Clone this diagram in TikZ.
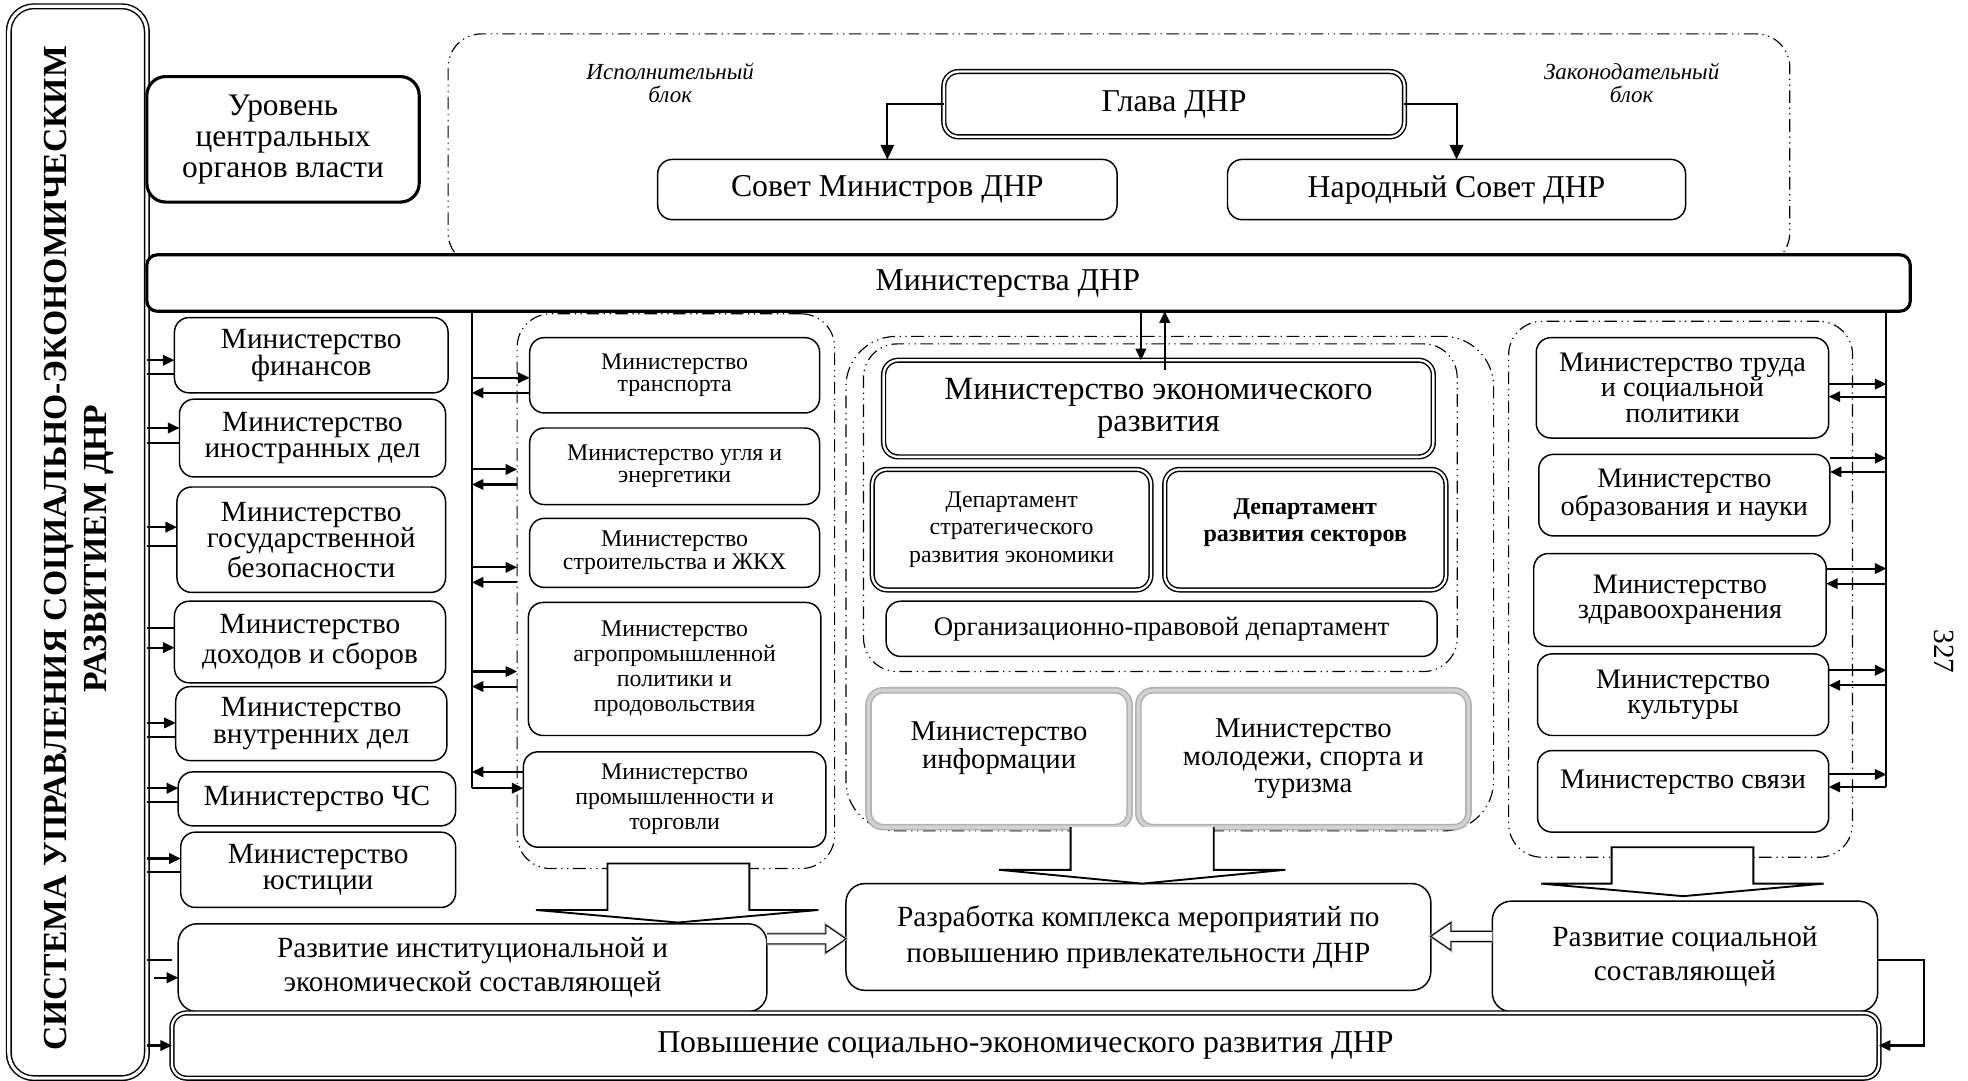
\documentclass[tikz,border=0pt]{standalone}
\usepackage{fontspec}
\setmainfont{Liberation Serif}
\usetikzlibrary{arrows.meta,fit,calc}

% a box given by its corners: [style]{name}{x1}{y1}{x2}{y2}{text}
\newcommand{\bx}[7][]{%
  \pgfmathsetmacro\bxcx{(#3+#5)/2}\pgfmathsetmacro\bxcy{(#4+#6)/2}%
  \pgfmathsetmacro\bxw{(#5-#3)*0.6}\pgfmathsetmacro\bxh{(#6-#4)*0.6}%
  \node[#1, minimum width=\bxw pt, minimum height=\bxh pt] (#2) at (\bxcx,\bxcy) {#7};%
}
% arrow pair from the left bus (title frame) to a box: #2 arrow offset, #3 plain line offset
\newcommand{\LBus}[3]{%
  \path ($(#1.west)+(0,#2)$) coordinate (#1-a) ($(#1.west)+(0,#3)$) coordinate (#1-l);
  \draw[arr] (sys.east |- #1-a) -- (#1-a);
  \draw[ln] (sys.east |- #1-l) -- (#1-l);
}
% two-way arrows between the middle bus and a box (#4 = node whose west side is met)
\newcommand{\MBus}[4]{%
  \path ($(#1.west)+(0,#2)$) coordinate (#1-r) ($(#1.west)+(0,#3)$) coordinate (#1-l);
  \draw[arr] (mb |- #1-r) -- (#4.west |- #1-r);
  \draw[arr] (#4.west |- #1-l) -- (mb |- #1-l);
}
% two-way arrows between a box and the right bus
\newcommand{\RBus}[3]{%
  \path ($(#1.east)+(0,#2)$) coordinate (#1-o) ($(#1.east)+(0,#3)$) coordinate (#1-i);
  \draw[arr] (#1-o) -- (rb |- #1-o);
  \draw[arr] (rb |- #1-i) -- (#1-i);
}

\tikzset{
  every node/.style={inner sep=0pt, outer sep=0pt},
  box/.style={draw, line width=0.7pt, rounded corners=7pt, fill=white, align=center},
  thickbox/.style={box, line width=1.5pt},
  dbox/.style={box, double, double distance=1.1pt, line width=0.7pt},
  gbox/.style={box, draw=gray!60, double=gray!35, double distance=1.6pt, line width=0.8pt},
  grp/.style={draw, line width=0.55pt, rounded corners=16pt,
    dash pattern=on 6pt off 2.2pt on 0.6pt off 2.2pt on 0.6pt off 2.2pt},
  arr/.style={line width=1pt, -{Triangle[length=5.5pt,width=5pt]}},
  ln/.style={line width=1pt},
  bigarr/.style={line width=0.9pt, -{Triangle[length=7pt,width=6.5pt]}},
  blk/.style={draw, line width=0.9pt, fill=white},
  hol/.style={line width=0.5pt, fill=white},
  holshade/.style={line width=1.4pt, draw=gray!55},
  fT/.style={font=\fontsize{15.2}{15}\selectfont},
  fL/.style={font=\fontsize{14}{12.8}\selectfont},
  fM/.style={font=\fontsize{11.4}{10.8}\selectfont},
  fMa/.style={font=\fontsize{11.4}{12}\selectfont},
  fR/.style={font=\fontsize{13.5}{12}\selectfont},
  fRt/.style={font=\fontsize{13.5}{12.2}\selectfont},
  fE/.style={font=\fontsize{15.5}{15.2}\selectfont},
  fD/.style={font=\fontsize{11.4}{13}\selectfont},
  fDb/.style={font=\fontsize{11.5}{13}\selectfont\bfseries},
  fO/.style={font=\fontsize{12.8}{13}\selectfont},
  fI/.style={font=\fontsize{13.7}{13.2}\selectfont},
  fB/.style={font=\fontsize{14}{16.2}\selectfont},
  fBr/.style={font=\fontsize{14}{17.4}\selectfont},
  fIt/.style={font=\fontsize{11}{11.4}\selectfont\itshape, align=center},
}

\begin{document}
\begin{tikzpicture}[x=0.6pt, y=-0.6pt]
\useasboundingbox (0,0) rectangle (1568,861);

% dash-dot groupings (drawn first, under everything)
\node[grp, fit={(357,27) (1426,212)}] (topgrp) {};
\node[grp, fit={(412,250) (665,692)}] (mlg) {};
\node[grp, rounded corners=24pt, fit={(674,268) (1190,662)}] (cgo) {};
\node[grp, fit={(688,274) (1161,535)}] (cgi) {};
\node[grp, fit={(1202,256) (1476,683)}] (rgp) {};

% title frame on the left
\node[dbox, rounded corners=12pt, double distance=1.5pt, line width=0.7pt, fit={(7,5) (117,859)}] (sys) {};
\node[rotate=90, align=center, font=\fontsize{16.1}{18.8}\selectfont\bfseries] (systxt) at (63,437)
  {СИСТЕМА УПРАВЛЕНИЯ СОЦИАЛЬНО-ЭКОНОМИЧЕСКИМ\\РАЗВИТИЕМ ДНР};

% level of central authorities
\bx[thickbox, rounded corners=9pt, font=\fontsize{15}{14.7}\selectfont]{lvl}{117}{61}{334}{161}
  {Уровень\\центральных\\органов власти}
\node[fIt] (isp) at (534,66) {Исполнительный\\блок};
\node[fIt] (zak) at (1300,66) {Законодательный\\блок};
\bx[dbox, fT]{gla}{752}{57}{1119}{109}{Глава ДНР}
\bx[box, fT]{sov}{524}{127}{890}{175}{Совет Министров ДНР}
\bx[box, fT]{nar}{978}{127}{1343}{175}{Народный Совет ДНР}

% ministries bar
\bx[thickbox, rounded corners=5pt]{bar}{117}{203}{1522}{248}{}
\node[fT] (bartxt) at (803,226) {Министерства ДНР};

% left column
\bx[box, fL]{fin}{139}{253}{357}{313}{Министерство\\финансов}
\bx[box, fL]{ino}{143}{318}{355}{380}{Министерство\\иностранных дел}
\bx[box, fL]{gb}{141}{388}{355}{472}{Министерство\\государственной\\безопасности}
\bx[box, fL]{doh}{139}{479}{355}{544}{Министерство\\доходов и сборов}
\bx[box, fL]{vnu}{140}{547}{356}{606}{Министерство\\внутренних дел}
\bx[box, fL]{chs}{142}{615}{363}{658}{Министерство ЧС}
\bx[box, fL]{yus}{144}{663}{363}{723}{Министерство\\юстиции}

% middle-left group
\bx[box, fM]{tra}{422}{269}{653}{329}{Министерство\\транспорта}
\bx[box, fM]{ugl}{422}{341}{653}{402}{Министерство угля и\\энергетики}
\bx[box, fM]{str}{422}{413}{653}{468}{Министерство\\строительства и ЖКХ}
\bx[box, fMa]{agr}{421}{480}{654}{586}{Министерство\\агропромышленной\\политики и\\продовольствия}
\bx[box, fMa]{pro}{417}{599}{658}{675}{Министерство\\промышленности и\\торговли}

% centre group
\bx[dbox, fE]{eco}{704}{287}{1142}{364}{Министерство экономического\\развития}
\bx[dbox, fD]{dst}{695}{374}{917}{470}{Департамент\\стратегического\\развития экономики}
\bx[dbox, fDb]{dse}{928}{374}{1152}{470}{Департамент\\развития секторов\\[-4pt]\mbox{}}
\bx[box, fO]{org}{706}{479}{1145}{523}{Организационно-правовой департамент}
\bx[gbox, fI]{inf}{692}{550}{900}{659}{Министерство\\информации\\\mbox{}}
\bx[gbox, fI]{mol}{907}{550}{1170}{659}{Министерство\\молодежи, спорта и\\туризма}

% right group
\bx[box, fRt]{tru}{1224}{269}{1457}{349}{Министерство труда\\и социальной\\политики}
\bx[box, fR]{obr}{1226}{362}{1458}{427}{Министерство\\образования и науки}
\bx[box, fR]{zdr}{1222}{441}{1455}{515}{Министерство\\здравоохранения}
\bx[box, fR]{kul}{1225}{521}{1457}{586}{Министерство\\культуры}
\bx[box, fR]{svy}{1225}{598}{1457}{663}{Министерство связи\\\mbox{}}

% bottom row
\bx[box, rounded corners=9pt, fB]{rin}{142}{736}{611}{806}{\\[-7pt]Развитие институциональной и\\экономической составляющей}
\bx[box, rounded corners=9pt, fBr]{raz}{674}{704}{1140}{789}{Разработка комплекса мероприятий по\\повышению привлекательности ДНР}
\bx[box, rounded corners=9pt, fB]{rso}{1189}{718}{1496}{806}{Развитие социальной\\составляющей}
\bx[dbox, fT]{pov}{137}{807}{1497}{859}{Повышение социально-экономического развития ДНР}

% page number
\node[rotate=-90, font=\fontsize{14}{14}\selectfont] (pg) at (1549,519) {327};

% head of republic to both councils
\draw[bigarr] (gla.west) -| (sov.north);
\draw[bigarr] (gla.east) -| (nar.north);

% ministries bar <-> ministry of economic development
\coordinate (ecoIn) at ($(eco.north)+(-14,0)$);
\coordinate (ecoOut) at ($(eco.north)+(5,8)$);
\draw[arr] (bar.south -| ecoIn) -- (ecoIn);
\draw[arr] (ecoOut) -- (bar.south -| ecoOut);

% left bus
\LBus{fin}{4}{15}
\LBus{ino}{-8}{4}
\LBus{gb}{-10}{5}
\LBus{doh}{4.5}{-11.5}
\LBus{vnu}{-0.5}{10.5}
\LBus{chs}{-8.5}{2.5}
\LBus{yus}{-9}{2}
\path ($(rin.west)+(0,-6)$) coordinate (rin-l) ($(rin.west)+(-19,8)$) coordinate (rin-s);
\draw[ln] (sys.east |- rin-l) -- ($(rin-l)+(-5,0)$);
\draw[arr] (rin-s) -- (rin.west |- rin-s);
\draw[arr] (sys.east |- pov.west) -- (pov.west);

% middle bus
\coordinate (mb) at (376,248);
\MBus{tra}{2}{14}{tra}
\MBus{ugl}{2.5}{14.5}{mlg}
\MBus{str}{11.5}{23.5}{mlg}
\MBus{agr}{2}{14}{mlg}
\MBus{pro}{-9}{-22}{pro}
\draw[ln] (bar.south -| mb) -- (mb |- pro-r);

% right bus
\coordinate (rb) at (1503,248);
\RBus{tru}{-3}{7}
\RBus{obr}{-29.5}{-18.5}
\RBus{zdr}{-25}{-13}
\RBus{kul}{-19.5}{-7.5}
\RBus{svy}{-13.5}{-3.5}
\draw[ln] (bar.south -| rb) -- (rb |- svy-i);

% block arrows down to the result boxes
\draw[blk] (484,688) -- (484,725) -- (427,725) -- (540,735) -- (652,725) -- (597,725) -- (597,688) -- cycle;
\draw[blk] (853,659) -- (853,693) -- (796,693) -- (910,704) -- (1024,693) -- (967,693) -- (967,659);
\draw[blk] (1284,675) -- (1284,704) -- (1228,704) -- (1341,714) -- (1453,704) -- (1397,704) -- (1397,675) -- cycle;

% hollow arrows into the measures box
\coordinate (h1a) at ($(rin.east)+(0,-23)$);
\coordinate (h1b) at (raz.west |- h1a);
\foreach \st in {holshade,hol}
  \draw[\st] ($(h1a)+(0,-4)$) -- ($(h1b)+(-16,-4)$) -- ($(h1b)+(-16,-11)$) -- (h1b)
    -- ($(h1b)+(-16,11)$) -- ($(h1b)+(-16,4)$) -- ($(h1a)+(0,4)$);
\coordinate (h2a) at ($(rso.west)+(0,-16)$);
\coordinate (h2b) at (raz.east |- h2a);
\foreach \st in {holshade,hol}
  \draw[\st] ($(h2a)+(0,-4)$) -- ($(h2b)+(16,-4)$) -- ($(h2b)+(16,-11)$) -- (h2b)
    -- ($(h2b)+(16,11)$) -- ($(h2b)+(16,4)$) -- ($(h2a)+(0,4)$);

% social component feeds the overall result
\coordinate (rsoT) at ($(rso.east)+(37,3)$);
\draw[arr] ($(rso.east)+(0,3)$) -- (rsoT) |- (pov.east);
\end{tikzpicture}
\end{document}
